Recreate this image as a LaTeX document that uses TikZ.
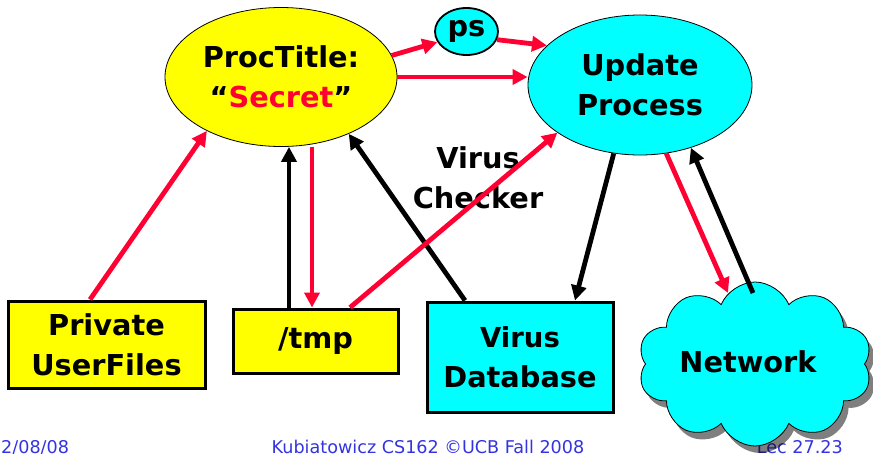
\documentclass[tikz,border=0pt]{standalone}
\usepackage{fontspec}
\setmainfont{DejaVu Sans}
\usetikzlibrary{shapes.geometric,shapes.symbols,shadows,arrows.meta,calc}
\definecolor{flowred}{RGB}{255,0,51}
\definecolor{footblue}{RGB}{51,51,225}
\definecolor{procyellow}{RGB}{255,255,0}
\definecolor{proccyan}{RGB}{0,255,255}
\begin{document}
\begin{tikzpicture}[x=1pt,y=-1pt,
  lbl/.style={font=\fontsize{28.8}{40}\selectfont\bfseries, align=center},
  blob/.style={ellipse, draw=black, line width=0.8pt, inner sep=0pt, lbl},
  filebox/.style={rectangle, draw=black, line width=3pt, inner sep=0pt, lbl},
  flow/.style={line width=4.8pt, -{Triangle[length=15pt,width=15pt]}},
  redflow/.style={flow, draw=flowred, fill=flowred},
  blackflow/.style={flow, draw=black, fill=black},
  foot/.style={font=\fontsize{17.6}{20}\selectfont, text=footblue, inner sep=0pt}]
\useasboundingbox (0,0) rectangle (873,453);

% footer line
\node[foot, anchor=base west] (date) at (1,453.5) {2/08/08};
\node[foot, anchor=base] (course) at (428,453.5) {Kubiatowicz CS162 ©UCB Fall 2008};
\node[foot, anchor=base east] (lec) at (843,453.5) {Lec 27.23};

% processes
\node[blob, fill=procyellow, minimum width=232pt, minimum height=139pt] (proc) at (281,77)
  {ProcTitle:\\“\textcolor{flowred}{Secret}”};
\node[blob, fill=proccyan, line width=1.8pt, minimum width=63pt, minimum height=47pt] (ps) at (466.5,31.5) {ps};
\node[blob, fill=proccyan, minimum width=224pt, minimum height=140pt] (update) at (640,85)
  {Update\\Process};

% files
\node[filebox, fill=procyellow, minimum width=197pt, minimum height=87pt] (priv) at (106.5,344.5)
  {Private\\UserFiles};
\node[filebox, fill=procyellow, minimum width=165pt, minimum height=64pt] (tmp) at (315.5,341) {/tmp};
\node[filebox, fill=proccyan, minimum width=186pt, minimum height=110pt] (vdb) at (520,357)
  {\fontsize{27.5}{40}\selectfont Virus\\Database};

% network cloud
\node[cloud, cloud puffs=10, cloud puff arc=135, cloud ignores aspect, draw=black, line width=0.8pt,
  fill=proccyan, minimum width=234pt, minimum height=164pt, inner sep=0pt,
  drop shadow={shadow xshift=5pt, shadow yshift=-7pt, fill=black, opacity=0.5}] (net) at (755,364) {};
\node[lbl] (netlbl) at (748,362) {Network};

% label
\node[lbl] (checker) at (478,178) {Virus\\Checker};

% data flows
\draw[redflow] ([xshift=-16.5pt]priv.north) -- (proc.216);
\draw[blackflow] ([xshift=-26.5pt]tmp.north) -- ([xshift=8pt]proc.south);
\draw[redflow] ([xshift=31pt]proc.south) -- ([xshift=-3.5pt]tmp.north);
\draw[blackflow] ([xshift=-55pt]vdb.north) -- (proc.320);
\draw[redflow] ([xshift=34.5pt]tmp.north) -- (update.210);
\draw[redflow] (proc.11) -- (ps.200);
\draw[redflow] (ps.345) -- (update.157);
\draw[redflow] (proc.east) -- (proc.east -| update.west);
\draw[blackflow] (update.249) -- ([xshift=55pt]vdb.north);
\draw[redflow] (update.291) -- ($(net.center)+(-27,-71)$);
\draw[blackflow] ($(net.center)+(-2,-71)$) -- (update.309);
\end{tikzpicture}
\end{document}
